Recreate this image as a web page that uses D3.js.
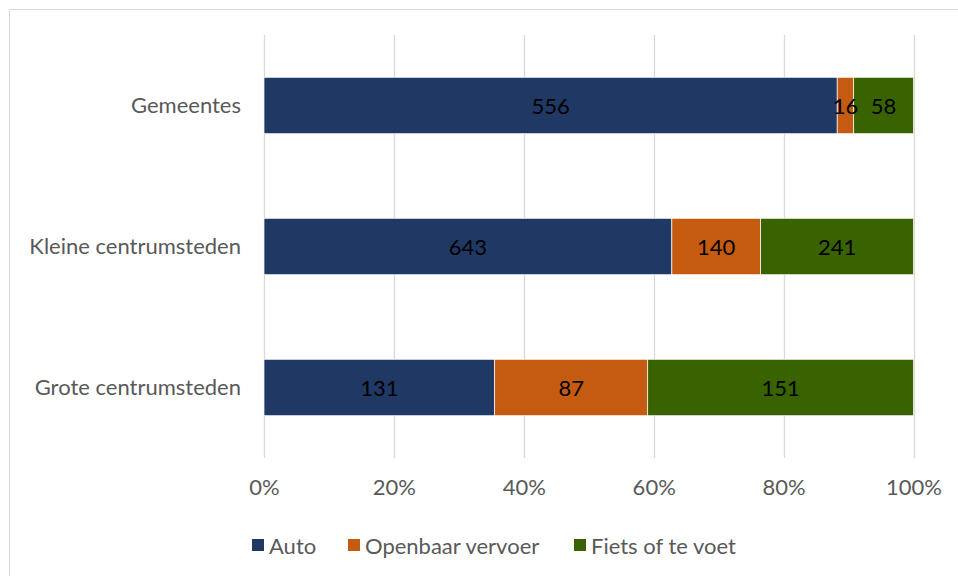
<!DOCTYPE html>
<html><head><meta charset="utf-8">
<script src="https://cdn.jsdelivr.net/npm/d3@7"></script>
<style>body{margin:0;background:#fff}svg{display:block;font-family:Lato,sans-serif}</style>
</head><body>
<svg id="c" width="958" height="576"></svg>
<script>
const categories = ["Gemeentes", "Kleine centrumsteden", "Grote centrumsteden"];
const seriesNames = ["Auto", "Openbaar vervoer", "Fiets of te voet"];
const auto = [556, 643, 131];
const openbaar = [16, 140, 87];
const fiets = [58, 241, 151];
const tickValues = [0, 0.2, 0.4, 0.6, 0.8, 1.0];
const colors = ["#203864", "#C55A11", "#386300"];
const FONT = "Lato, sans-serif";
const FS = 22;

const svg = d3.select("#c");
svg.append("path").attr("d","M9.5,576 V9.5 H958").attr("fill","none").attr("stroke","#d9d9d9").attr("stroke-width",1);

const x = d3.scaleLinear().domain([0,1]).range([264,913.5]);
const y = d3.scaleBand().domain(categories).range([35,458]).paddingInner(0.6).paddingOuter(0.3);

const rows = categories.map((c,i)=>{const r={cat:c}; r[seriesNames[0]]=auto[i]; r[seriesNames[1]]=openbaar[i]; r[seriesNames[2]]=fiets[i]; return r;});
const stack = d3.stack().keys(seriesNames).offset(d3.stackOffsetExpand);
const layers = stack(rows);

// gridlines
svg.append("g").selectAll("line").data(tickValues).join("line")
  .attr("x1",d=>Math.round(x(d))+0.5).attr("x2",d=>Math.round(x(d))+0.5)
  .attr("y1",35).attr("y2",458).attr("stroke","#d9d9d9").attr("stroke-width",1.3);

// x tick labels via axis
const xAxis = d3.axisBottom(x).tickValues(tickValues).tickFormat(d3.format(".0%")).tickSize(0).tickPadding(0);
const gx = svg.append("g").attr("transform","translate(0,479)").call(xAxis);
gx.select(".domain").remove();
gx.selectAll("text").attr("font-size",FS).attr("fill","#595959").attr("font-family",FONT);

// category labels
const yAxis = d3.axisLeft(y).tickSize(0).tickPadding(0);
const gy = svg.append("g").attr("transform","translate(241,0)").call(yAxis);
gy.select(".domain").remove();
gy.selectAll("text").attr("font-size",FS).attr("fill","#595959").attr("font-family",FONT);

// bars
const gb = svg.append("g");
const gt = svg.append("g");
layers.forEach((layer,li)=>{
  gb.append("g").selectAll("rect").data(layer).join("rect")
    .attr("x",d=>x(d[0])).attr("width",d=>x(d[1])-x(d[0]))
    .attr("y",d=>y(d.data.cat)).attr("height",y.bandwidth())
    .attr("fill",colors[li]).attr("stroke","#fff").attr("stroke-width",0.7);
  gt.append("g").selectAll("text").data(layer).join("text")
    .attr("x",d=>(x(d[0])+x(d[1]))/2).attr("y",d=>y(d.data.cat)+y.bandwidth()/2)
    .attr("text-anchor","middle").attr("dominant-baseline","central")
    .attr("font-size",FS).attr("fill","#000").attr("font-family",FONT)
    .text(d=>d.data[layer.key]);
});

// legend
const legX = [252, 348, 574];
const lg = svg.append("g");
seriesNames.forEach((s,i)=>{
  lg.append("rect").attr("x",legX[i]).attr("y",539).attr("width",12).attr("height",12).attr("fill",colors[i]);
  lg.append("text").attr("x",legX[i]+17).attr("y",545).attr("dominant-baseline","central")
    .attr("font-size",FS).attr("fill","#595959").attr("font-family",FONT).text(s);
});
</script>
</body></html>
